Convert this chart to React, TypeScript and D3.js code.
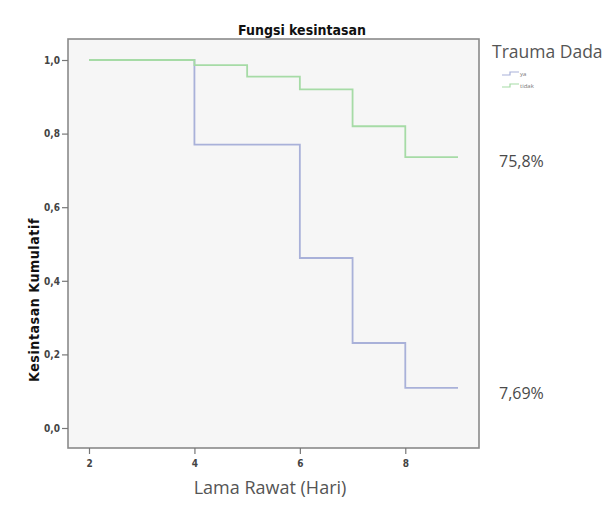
import { type FC, useEffect, useRef } from 'react';
import * as d3 from 'd3';

// data
const groups = ['ya', 'tidak'];
const yaTime = [2, 4, 6, 7, 8, 9];
const yaSurv = [1.0, 0.77, 0.462, 0.231, 0.109, 0.109];
const tidakTime = [2, 4, 5, 6, 7, 8, 9];
const tidakSurv = [1.0, 0.986, 0.955, 0.92, 0.82, 0.736, 0.736];
const xTicks = [2, 4, 6, 8];
const yTicks = [0, 0.2, 0.4, 0.6, 0.8, 1.0];
const endLabels = ['7,69%', '75,8%'];

const width = 612;
const height = 508;
const frame = { left: 68, right: 479, top: 39, bottom: 448 };
const colors: Record<string, string> = { ya: '#a9b1d9', tidak: '#a6dba6' };
const narrow = '"Liberation Sans Narrow", "DejaVu Sans Condensed", sans-serif';
const sans = '"Open Sans", "Noto Sans", sans-serif';

type Pt = { t: number; s: number };

const App: FC = () => {
  const ref = useRef<SVGSVGElement>(null);

  useEffect(() => {
    const svg = d3.select(ref.current);
    svg.selectAll('*').remove();

    const x = d3.scaleLinear().domain([2, 9]).range([89, 458]);
    const y = d3.scaleLinear().domain([0, 1]).range([428, 60]);

    // plot frame
    svg
      .append('rect')
      .attr('x', frame.left)
      .attr('y', frame.top)
      .attr('width', frame.right - frame.left)
      .attr('height', frame.bottom - frame.top)
      .attr('fill', '#f6f6f6')
      .attr('stroke', '#8a8a8a')
      .attr('stroke-width', 1.6);

    // axes
    const gx = svg
      .append('g')
      .attr('transform', `translate(0,${frame.bottom})`)
      .call(d3.axisBottom(x).tickValues(xTicks).tickSize(6).tickPadding(6).tickFormat(d3.format('d')));
    const gy = svg
      .append('g')
      .attr('transform', `translate(${frame.left},0)`)
      .call(
        d3
          .axisLeft(y)
          .tickValues(yTicks)
          .tickSize(6)
          .tickPadding(2)
          .tickFormat((d) => d3.format('.1f')(d as number).replace('.', ','))
      );
    [gx, gy].forEach((g) => {
      g.select('.domain').remove();
      g.selectAll('line').attr('stroke', '#777').attr('stroke-width', 1.2);
      g.selectAll('text')
        .attr('fill', '#444')
        .style('font-family', narrow)
        .style('font-weight', 'bold')
        .style('font-size', '10px');
    });

    // survival curves
    const line = d3
      .line<Pt>()
      .x((d) => x(d.t))
      .y((d) => y(d.s))
      .curve(d3.curveStepAfter);
    const series: Record<string, Pt[]> = {
      ya: yaTime.map((t, i) => ({ t, s: yaSurv[i] })),
      tidak: tidakTime.map((t, i) => ({ t, s: tidakSurv[i] })),
    };
    groups.forEach((k) => {
      svg
        .append('path')
        .datum(series[k])
        .attr('fill', 'none')
        .attr('stroke', colors[k])
        .attr('stroke-width', 1.8)
        .attr('d', line);
    });

    // end percentages
    const ends = [yaSurv[yaSurv.length - 1], tidakSurv[tidakSurv.length - 1]];
    endLabels.forEach((lab, i) => {
      svg
        .append('text')
        .attr('x', 499)
        .attr('y', y(ends[i]) + (i === 0 ? 11 : 10))
        .attr('fill', '#4a4a4a')
        .style('font-family', sans)
        .style('font-size', '16px')
        .text(lab);
    });

    // titles
    svg
      .append('text')
      .attr('x', 302)
      .attr('y', 35)
      .attr('text-anchor', 'middle')
      .attr('fill', '#111')
      .style('font-family', narrow)
      .style('font-weight', 'bold')
      .style('font-size', '14px')
      .text('Fungsi kesintasan');
    svg
      .append('text')
      .attr('transform', 'translate(39,300) rotate(-90)')
      .attr('text-anchor', 'middle')
      .attr('fill', '#111')
      .style('font-family', narrow)
      .style('font-weight', 'bold')
      .style('font-size', '14px')
      .style('letter-spacing', '0.6px')
      .text('Kesintasan Kumulatif');
    svg
      .append('text')
      .attr('x', 270)
      .attr('y', 494)
      .attr('text-anchor', 'middle')
      .attr('fill', '#555')
      .style('font-family', sans)
      .style('font-size', '18px')
      .text('Lama Rawat (Hari)');

    // legend
    svg
      .append('text')
      .attr('x', 492)
      .attr('y', 58)
      .attr('fill', '#555')
      .style('font-family', sans)
      .style('font-size', '17.5px')
      .text('Trauma Dada');
    groups.forEach((k, i) => {
      const ly = 74 + i * 12;
      svg
        .append('path')
        .attr('d', `M502,${ly + 1}H510V${ly - 2}H519`)
        .attr('fill', 'none')
        .attr('stroke', colors[k])
        .attr('stroke-width', 1.2);
      svg
        .append('text')
        .attr('x', 520)
        .attr('y', ly + 2)
        .attr('fill', '#777')
        .style('font-family', sans)
        .style('font-size', '6px')
        .text(k);
    });
  }, []);

  return (
    <svg
      ref={ref}
      width={width}
      height={height}
      style={{ position: 'absolute', left: 0, top: 0, background: '#fff' }}
    />
  );
};

export default App;
